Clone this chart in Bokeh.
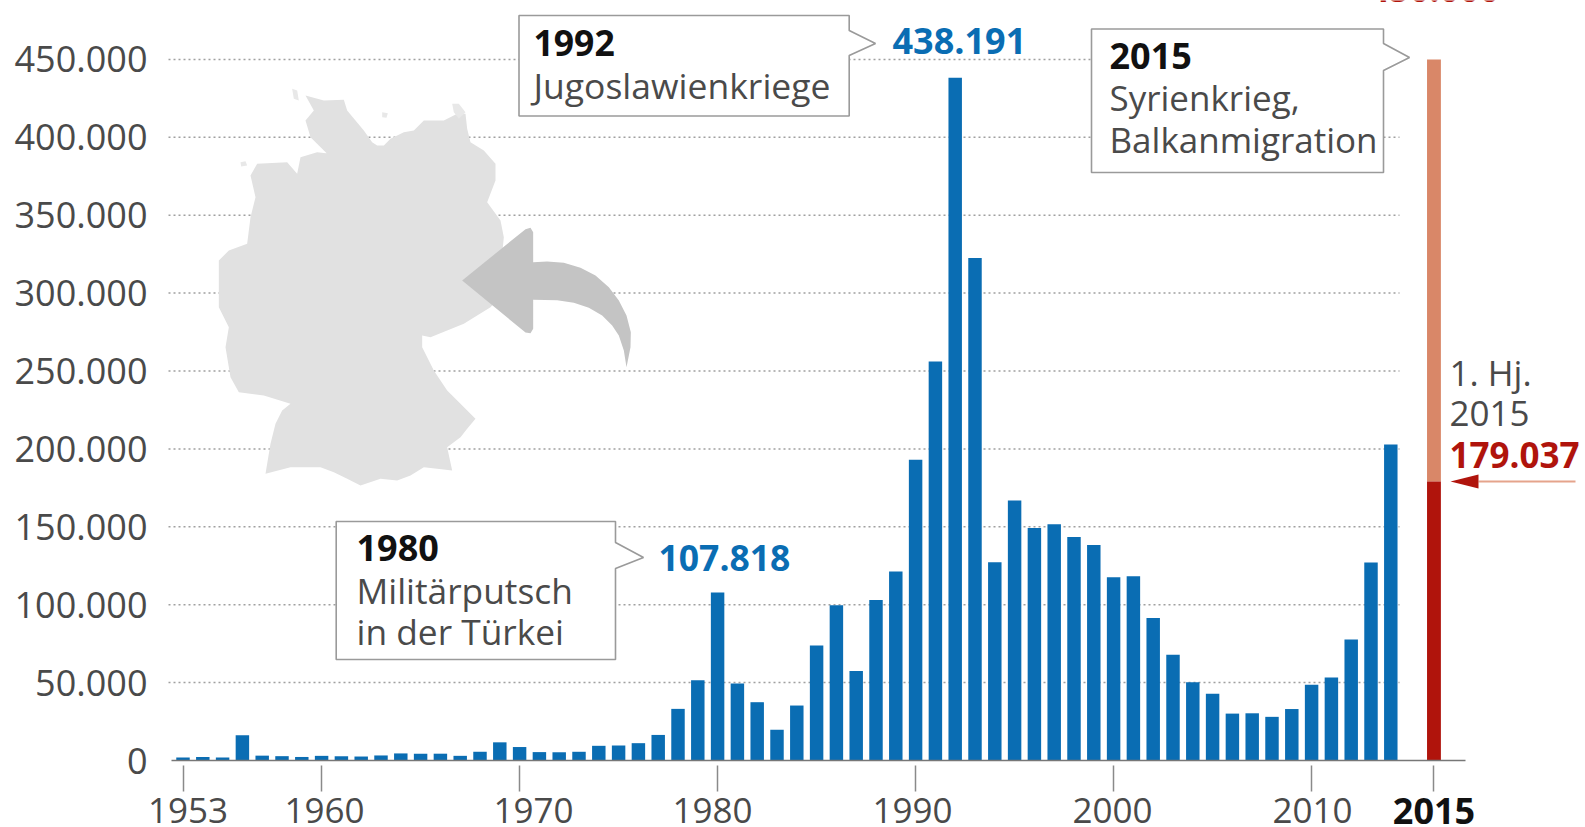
from bokeh.plotting import figure
from bokeh.embed import file_html
from bokeh.resources import INLINE
from bokeh.models import FixedTicker, Range1d
from bokeh.core.properties import value

# ---- data ----
years = list(range(1953, 2015))
applications = [1906, 2174, 1926, 16284, 3112, 2785, 2267, 2980, 2722, 2550,
                3238, 4542, 4337, 4370, 2992, 5608, 11664, 8645, 5388, 5289,
                5595, 9424, 9627, 11123, 16410, 33136, 51493, 107818, 49391, 37423,
                19737, 35278, 73832, 99650, 57379, 103076, 121315, 193063, 256112, 438191,
                322599, 127210, 166951, 149193, 151700, 143429, 138319, 117648, 118306, 91471,
                67848, 50152, 42908, 30100, 30303, 28018, 33033, 48589, 53347, 77651,
                127023, 202834]
year_2015 = 2015
first_half_2015 = 179037
forecast_2015 = 450000
y_ticks = [0, 50000, 100000, 150000, 200000, 250000, 300000, 350000, 400000, 450000]
y_tick_labels = ["0", "50.000", "100.000", "150.000", "200.000", "250.000", "300.000", "350.000", "400.000", "450.000"]
x_ticks = [1953, 1960, 1970, 1980, 1990, 2000, 2010]
x_tick_labels = ["1953", "1960", "1970", "1980", "1990", "2000", "2010"]

# ---- layout helpers (page pixels -> data) ----
PX_PER_YEAR = 19.8
PX_PER_UNIT = 77.9 / 50000
GAP_2015 = 1.18
BASE_FIX = 0.36  # em, the renderer sets alphabetic text this much low
def X(px): return 1953 + (px - 182.5) / PX_PER_YEAR
def Y(py): return (760 - py) / PX_PER_UNIT

BLUE = "#0A6DB3"
RED = "#B0140C"
SALMON = "#D98768"
TXT = "#4A4A4A"
F = "Open Sans"
x_2015 = year_2015 + GAP_2015

p = figure(width=1585, height=827, output_backend="svg", toolbar_location=None,
           x_range=Range1d(X(0), X(1585)), y_range=Range1d(Y(827), Y(0)),
           min_border_left=0, min_border_right=0, min_border_top=0, min_border_bottom=0,
           margin=(0, 0, 0, 0))
p.outline_line_color = None
p.grid.visible = False

# axes
p.yaxis.fixed_location = X(168)
p.yaxis.ticker = FixedTicker(ticks=y_ticks)
p.yaxis.major_label_overrides = dict(zip(y_ticks, y_tick_labels))
p.yaxis.axis_line_color = None
p.yaxis.major_tick_line_color = None
p.yaxis.minor_tick_line_color = None
p.yaxis.major_tick_in = 0
p.yaxis.major_tick_out = 0
p.yaxis.major_label_standoff = 21
p.yaxis.major_label_text_font = F
p.yaxis.major_label_text_font_size = "36px"
p.yaxis.major_label_text_color = TXT

all_x_ticks = x_ticks + [x_2015]
p.xaxis.fixed_location = Y(765)
p.xaxis.ticker = FixedTicker(ticks=all_x_ticks)
p.xaxis.major_label_overrides = {t: "" for t in all_x_ticks}
p.xaxis.major_label_text_font_size = "1px"
p.xaxis.major_label_standoff = 0
p.xaxis.axis_line_color = None
p.xaxis.minor_tick_line_color = None
p.xaxis.major_tick_in = 0
p.xaxis.major_tick_out = 26
p.xaxis.major_tick_line_color = "#8A8A8A"
p.xaxis.major_tick_line_width = 1.5

# gridlines
grid_vals = y_ticks[1:]
p.segment(x0=[X(168)] * len(grid_vals), x1=[X(1399)] * len(grid_vals), y0=grid_vals, y1=grid_vals,
          line_color="#A0A0A0", line_width=1.5, line_dash="2 3", level="underlay")

# Germany silhouette (traced outline, zoom coordinates -> page)
def Z(pts):
    return [X(a / 3 + 150) for a, b in pts], [Y(b / 3 + 70) for a, b in pts]
germany = [(465,75),(520,90),(580,88),(590,120),(615,150),(640,180),(665,215),(680,225),(700,225),(720,205),(760,185),
           (790,180),(820,150),(880,150),(920,130),(945,130),(950,175),(960,215),(1000,240),(1035,280),(1035,330),
           (1010,395),(1050,450),(1060,500),(1050,600),(1030,700),(1020,710),(940,760),(840,800),(815,795),
           (815,830),(850,900),(890,960),(930,1000),(975,1045),(950,1075),(930,1100),(890,1130),(905,1200),(860,1195),(820,1190),
           (780,1215),(740,1230),(690,1225),(630,1245),(590,1225),(550,1205),(510,1190),(420,1190),(345,1210),(360,1120),(375,1060),
           (395,1020),(420,1000),(340,975),(265,965),(240,920),(225,830),(235,770),(205,710),(205,570),(235,540),(290,520),(300,440),(315,380),
           (300,315),(320,280),(410,275),(440,310),(450,260),(500,245),(540,250),(580,298),(530,250),(480,200),
           (465,150),(490,120)]
gx, gy = Z(germany)
p.patch(gx, gy, fill_color="#E1E1E1", line_color=None, level="underlay")
islands = [[(425,55),(440,60),(445,90),(430,85)], [(905,100),(925,100),(945,125),(925,145),(910,125)],
           [(695,125),(712,128),(708,142),(695,140)], [(270,275),(285,272),(290,285),(272,288)]]
for isl in islands:
    ix, iy = Z(isl)
    p.patch(ix, iy, fill_color="#E8E8E8", line_color=None, level="underlay")
arrow = [(935,630),(1125,476),(1140,472),(1148,485),(1148,575),(1190,573),(1240,577),(1290,592),(1335,615),
         (1375,650),(1405,690),(1428,735),(1441,785),(1440,830),(1428,890),(1420,840),(1405,795),(1385,765),
         (1355,735),(1315,712),(1270,697),(1220,689),(1148,688),(1148,775),(1140,788),(1125,786)]
ax, ay = Z(arrow)
p.patch(ax, ay, fill_color="#C4C4C4", line_color=None, level="underlay")

# bars
BAR_W = 0.68
p.vbar(x=years, top=applications, width=BAR_W, bottom=0, fill_color=BLUE, line_color=None)
p.vbar(x=[x_2015], bottom=[first_half_2015], top=[forecast_2015], width=0.7, fill_color=SALMON, line_color=None)
p.vbar(x=[x_2015], bottom=[0], top=[first_half_2015], width=0.7, fill_color=RED, line_color=None)

# baseline
p.segment(x0=[X(171)], x1=[X(1465)], y0=[0], y1=[0], line_color="#777777", line_width=1.5)

# callouts
def callout(l, r, t, b, n0, n1, tx, ty):
    xs = [l, r, r, tx, r, r, l, l]
    ys = [t, t, n0, ty, n1, b, b, t]
    p.patch([X(v) for v in xs], [Y(v) for v in ys], fill_color="white",
            line_color="#9A9A9A", line_width=1.6)
callout(518.5, 848.7, 15, 115.5, 30, 55, 875, 43)
callout(1091, 1383, 28.5, 172, 43, 70, 1409, 57)
callout(335.7, 615, 521, 659, 542, 568, 643, 557)

def lab(txt, px, py, size, color=TXT, bold=False, align="left"):
    p.text(x=[X(px)], y=[Y(py - BASE_FIX * size)], text=[txt], text_font=value(F), text_font_size=f"{size}px",
           text_color=color, text_font_style="bold" if bold else "normal",
           text_align=align, text_baseline="alphabetic")

lab("1992", 533, 55, 35.5, "#111111", True)
lab("Jugoslawienkriege", 533, 97, 35.5)
lab("438.191", 892, 53, 36, BLUE, True)
lab("2015", 1109, 68, 36, "#111111", True)
lab("Syrienkrieg,", 1109, 110, 35)
lab("Balkanmigration", 1109, 152, 35)
lab("1980", 356, 560, 36, "#111111", True)
lab("Militärputsch", 356, 602, 35.3)
lab("in der Türkei", 356, 643, 35.3)
lab("107.818", 658, 570.5, 35.5, BLUE, True)
lab("450.000", 1369, 1, 35, RED, True)
lab("1. Hj.", 1449, 385, 35)
lab("2015", 1449, 426, 35)
lab("179.037", 1449, 467, 35, RED, True)

# pointer to first half value
p.segment(x0=[X(1478)], x1=[X(1575)], y0=[first_half_2015], y1=[first_half_2015], line_color="#E5A48C", line_width=2)
p.patch([X(1450), X(1478), X(1478)], [first_half_2015, first_half_2015 + 7 / PX_PER_UNIT, first_half_2015 - 7 / PX_PER_UNIT],
        fill_color=RED, line_color=None)

# x tick labels
label_shift = [5, 3, 14, -5, -3, -1, 1]
ly = Y(823 - BASE_FIX * 35)
p.text(x=x_ticks, y=[ly] * len(x_ticks), x_offset=label_shift, text=x_tick_labels, text_font=value(F),
       text_font_size="35px", text_color=TXT, text_align="center", text_baseline="alphabetic")
p.text(x=[x_2015], y=[ly], text=[str(year_2015)], text_font=value(F), text_font_size="36px",
       text_font_style="bold", text_color="#111111", text_align="center", text_baseline="alphabetic")

open("out.html", "w").write(file_html(p, INLINE))
